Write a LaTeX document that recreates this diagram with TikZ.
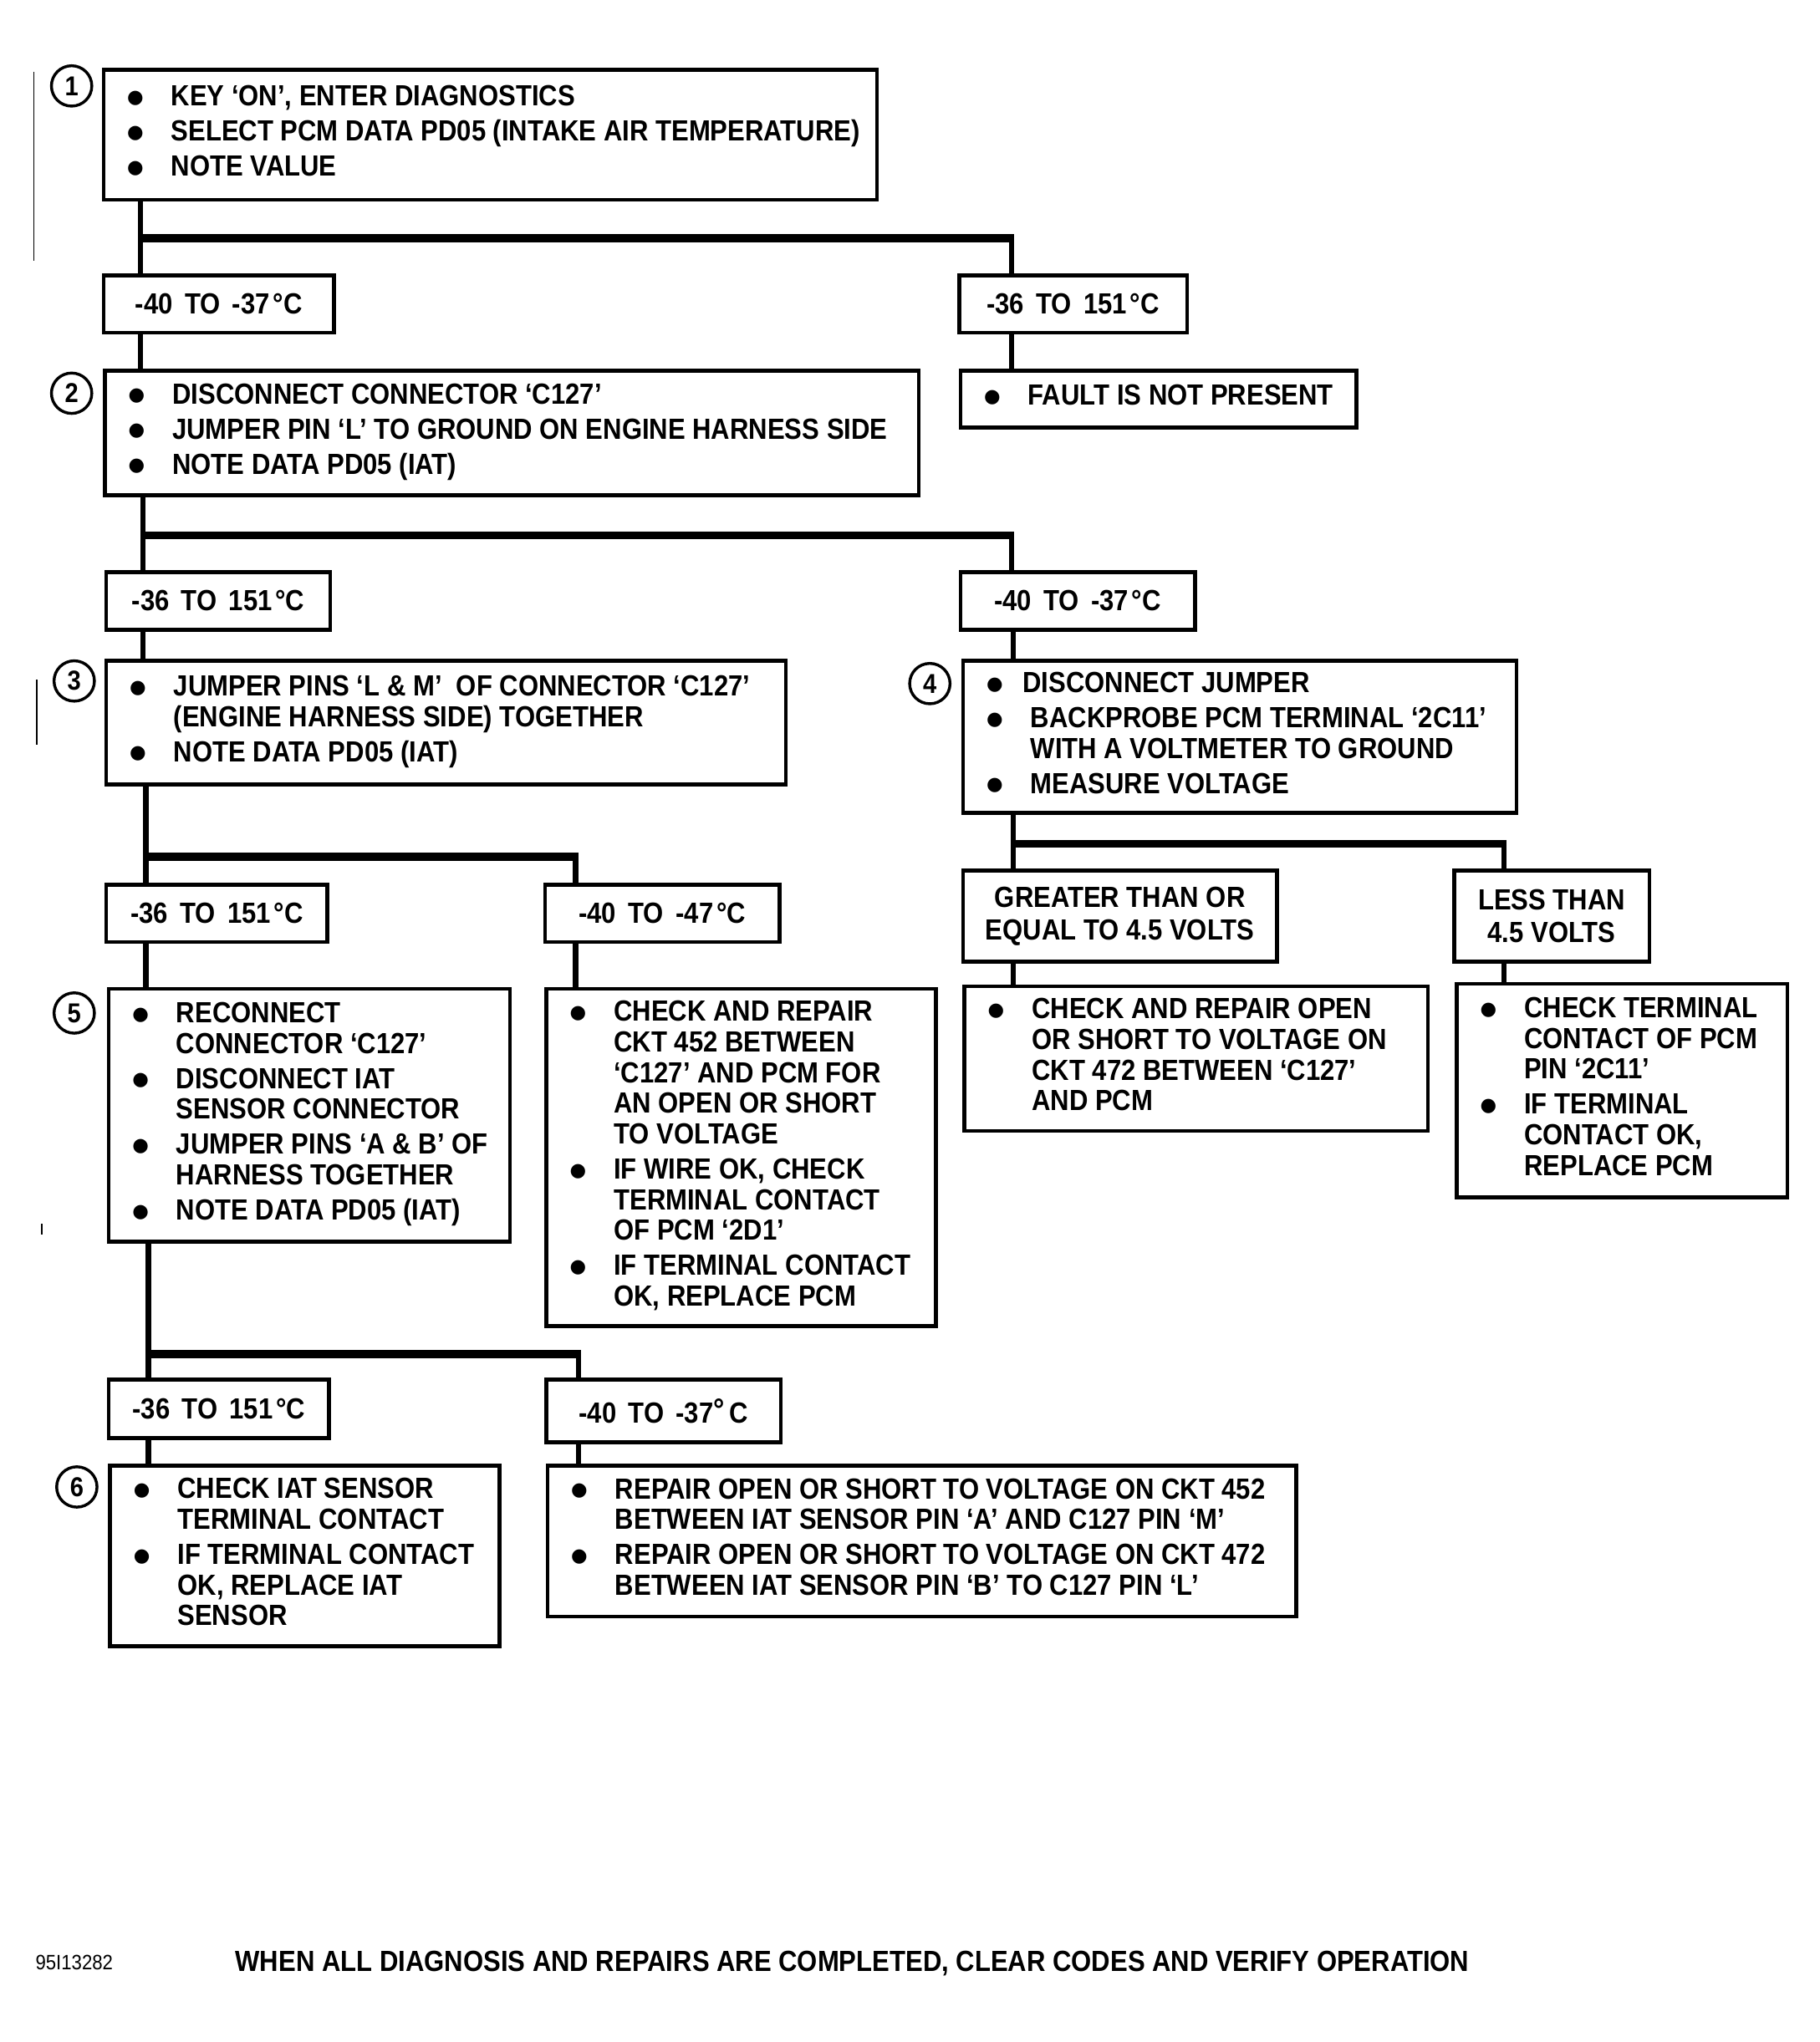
\documentclass[tikz,border=0pt]{standalone}
\usepackage{fontspec}
\setmainfont{Liberation Sans}[FakeStretch=0.89]
\newfontfamily\symfont{DejaVu Sans}
\newcommand\txtfont{\fontsize{11.2pt}{11.75pt}\selectfont\bfseries}
\newcommand\lblfont{\fontsize{11.2pt}{12.5pt}\selectfont\bfseries\spaceskip=4.6pt plus 1pt minus 1pt\relax}
\newcommand\numfont{\fontsize{10.5pt}{12pt}\selectfont\bfseries}
\newcommand\idfont{\fontsize{8pt}{9pt}\selectfont}
\newcommand\degs{\hspace{1.2pt}°}
\newcommand\bdot{\raisebox{1.1pt}{\symfont\fontsize{7.2pt}{7.2pt}\selectfont ●}}
\newcommand\bul{\strut\makebox[17.5pt][l]{\hspace{0.6pt}\bdot}}
\newcommand\bulA{\strut\makebox[14.5pt][l]{\hspace{0.6pt}\bdot}}
\newcommand\ind{\strut\hspace*{17.5pt}}
\newcommand\isep{\\[1.75pt]}
\tikzset{
  box/.style={draw, line width=1.5pt, rectangle, inner sep=0pt, anchor=north west},
  sz/.style 2 args={minimum width=#1*0.5pt, minimum height=#2*0.5pt},
  lbl/.style={box, font=\lblfont, align=center},
  txt/.style={inner sep=0pt, anchor=west, align=left, font=\txtfont},
  num/.style={draw, circle, line width=1.1pt, minimum size=15.5pt, inner sep=0pt, font=\numfont},
  vl/.style={line width=2pt},
  hl/.style={line width=3pt},
  stray/.style={line width=0.6pt},
}
\begin{document}
\begin{tikzpicture}[x=0.5pt,y=-0.5pt]
\useasboundingbox (0,0) rectangle (1397.5,1568.3);

% ---------- step 1
\node[num] (n1) at (55,66) {1};
\node[box, sz={594}{100}] (b1) at (78,52) {};
\node[txt] (t1) at ([xshift=9pt]b1.west) {\bul KEY ‘ON’, ENTER DIAGNOSTICS\isep\bul SELECT PCM DATA PD05 (INTAKE AIR TEMPERATURE)\isep\bul NOTE VALUE};
\node[lbl, sz={177}{44}] (l1a) at (78,210) {-40 TO -37\degs C};
\node[lbl, sz={175}{44}] (l1b) at (735,210) {-36 TO 151\degs C};
\node[box, sz={304}{44}] (fault) at (736,283) {};
\node[txt] (tf) at ([xshift=9pt]fault.west) {\bul FAULT IS NOT PRESENT};

% ---------- step 2
\node[num] (n2) at (55,302) {2};
\node[box, sz={625}{96}] (b2) at (79,283) {};
\node[txt] (t2) at ([xshift=9pt]b2.west) {\bul DISCONNECT CONNECTOR ‘C127’\isep\bul JUMPER PIN ‘L’ TO GROUND ON ENGINE HARNESS SIDE\isep\bul NOTE DATA PD05 (IAT)};
\node[lbl, sz={172}{44}] (l2a) at (80,438) {-36 TO 151\degs C};
\node[lbl, sz={180}{44}] (l2b) at (736,438) {-40 TO -37\degs C};

% ---------- step 3
\node[num] (n3) at (57,523) {3};
\node[box, sz={522}{95}] (b3) at (80,506) {};
\node[txt] (t3) at ([xshift=9pt]b3.west) {\bul JUMPER PINS ‘L \& M’\ \ OF CONNECTOR ‘C127’\\\ind (ENGINE HARNESS SIDE) TOGETHER\isep\bul NOTE DATA PD05 (IAT)};
\node[lbl, sz={170}{44}] (l3a) at (80,678) {-36 TO 151\degs C};
\node[lbl, sz={180}{44}] (l3b) at (417,678) {-40 TO -47\degs C};

% ---------- step 4
\node[num] (n4) at (714,525) {4};
\node[box, sz={425}{117}] (b4) at (738,506) {};
\node[txt] (t4) at ([xshift=9pt]b4.west) {\bulA DISCONNECT JUMPER\isep\bul BACKPROBE PCM TERMINAL ‘2C11’\\\ind WITH A VOLTMETER TO GROUND\isep\bul MEASURE VOLTAGE};
\node[lbl, sz={241}{70}, font=\txtfont] (l4a) at (738,667) {GREATER THAN OR\\[0.75pt]EQUAL TO 4.5 VOLTS};
\node[lbl, sz={150}{70}, font=\txtfont] (l4b) at (1115,667) {LESS THAN\\[0.75pt]4.5 VOLTS};
\node[box, sz={356}{111}] (c472) at (739,756) {};
\node[txt] (t472) at ([xshift=9pt]c472.west) {\bul CHECK AND REPAIR OPEN\\\ind OR SHORT TO VOLTAGE ON\\\ind CKT 472 BETWEEN ‘C127’\\\ind AND PCM};
\node[box, sz={254}{164}] (chk) at (1117,754) {};
\node[txt] (tchk) at ([xshift=9pt]chk.west) {\bul CHECK TERMINAL\\\ind CONTACT OF PCM\\\ind PIN ‘2C11’\isep\bul IF TERMINAL\\\ind CONTACT OK,\\\ind REPLACE PCM};

% ---------- step 5
\node[num] (n5) at (57,778) {5};
\node[box, sz={308}{194}] (b5) at (82,758) {};
\node[txt] (t5) at ([xshift=9pt]b5.west) {\bul RECONNECT\\\ind CONNECTOR ‘C127’\isep\bul DISCONNECT IAT\\\ind SENSOR CONNECTOR\isep\bul JUMPER PINS ‘A \& B’ OF\\\ind HARNESS TOGETHER\isep\bul NOTE DATA PD05 (IAT)};
\node[box, sz={299}{259}] (c452) at (418,758) {};
\node[txt] (t452) at ([xshift=9pt]c452.west) {\bul CHECK AND REPAIR\\\ind CKT 452 BETWEEN\\\ind ‘C127’ AND PCM FOR\\\ind AN OPEN OR SHORT\\\ind TO VOLTAGE\isep\bul IF WIRE OK, CHECK\\\ind TERMINAL CONTACT\\\ind OF PCM ‘2D1’\isep\bul IF TERMINAL CONTACT\\\ind OK, REPLACE PCM};
\node[lbl, sz={169}{45}] (l5a) at (82,1058) {-36 TO 151\degs C};
\node[lbl, sz={180}{48}] (l5b) at (418,1058) {-40 TO -37\raisebox{1pt}{\large °}\,C};

% ---------- step 6
\node[num] (n6) at (59,1142) {6};
\node[box, sz={299}{139}] (b6) at (83,1124) {};
\node[txt] (t6) at ([xshift=9pt]b6.west) {\bul CHECK IAT SENSOR\\\ind TERMINAL CONTACT\isep\bul IF TERMINAL CONTACT\\\ind OK, REPLACE IAT\\\ind SENSOR};
\node[box, sz={575}{116}] (rep) at (419,1124) {};
\node[txt] (trep) at ([xshift=9pt]rep.west) {\bul REPAIR OPEN OR SHORT TO VOLTAGE ON CKT 452\\\ind BETWEEN IAT SENSOR PIN ‘A’ AND C127 PIN ‘M’\isep\bul REPAIR OPEN OR SHORT TO VOLTAGE ON CKT 472\\\ind BETWEEN IAT SENSOR PIN ‘B’ TO C127 PIN ‘L’};

% ---------- footer
\node[font=\idfont, inner sep=0pt] (id) at (57,1507) {95I13282};
\node[font=\txtfont, inner sep=0pt] (foot) at (654.5,1508) {WHEN ALL DIAGNOSIS AND REPAIRS ARE COMPLETED, CLEAR CODES AND VERIFY OPERATION};

% ---------- junctions
\coordinate (j1) at (108,183); \coordinate (c1) at (777,183);
\coordinate (j2) at (110,411); \coordinate (c2) at (777,411);
\coordinate (j3) at (112,658); \coordinate (c3) at (442,658);
\coordinate (j4) at (778,648); \coordinate (c4) at (1155,648);
\coordinate (j5) at (114,1040); \coordinate (c5) at (444,1040);

% ---------- connectors
\draw[vl] (b1.south -| j1) -- (l1a.north -| j1);
\draw[hl] ([xshift=-1pt]j1) -- ([xshift=1pt]c1);
\draw[vl] (c1) -- (l1b.north -| c1);
\draw[vl] (l1a.south -| j1) -- (b2.north -| j1);
\draw[vl] (l1b.south -| c1) -- (fault.north -| c1);

\draw[vl] (b2.south -| j2) -- (l2a.north -| j2);
\draw[hl] ([xshift=-1pt]j2) -- ([xshift=1pt]c2);
\draw[vl] (c2) -- (l2b.north -| c2);
\draw[vl] (l2a.south -| j2) -- (b3.north -| j2);
\draw[vl] (l2b.south -| j4) -- (b4.north -| j4);

\draw[vl] (b3.south -| j3) -- (l3a.north -| j3);
\draw[hl] ([xshift=-1pt]j3) -- ([xshift=1pt]c3);
\draw[vl] (c3) -- (l3b.north -| c3);
\draw[vl] (l3a.south -| j3) -- (b5.north -| j3);
\draw[vl] (l3b.south -| c3) -- (c452.north -| c3);

\draw[vl] (b4.south -| j4) -- (l4a.north -| j4);
\draw[hl] ([xshift=-1pt]j4) -- ([xshift=1pt]c4);
\draw[vl] (c4) -- (l4b.north -| c4);
\draw[vl] (l4a.south -| j4) -- (c472.north -| j4);
\draw[vl] (l4b.south -| c4) -- (chk.north -| c4);

\draw[vl] (b5.south -| j5) -- (l5a.north -| j5);
\draw[hl] ([xshift=-1pt]j5) -- ([xshift=1pt]c5);
\draw[vl] (c5) -- (l5b.north -| c5);
\draw[vl] (l5a.south -| j5) -- (b6.north -| j5);
\draw[vl] (l5b.south -| c5) -- (rep.north -| c5);

% ---------- margin marks
\draw[stray] (26,55) -- (26,200);
\draw[stray] (28,522) -- (28,572);
\draw[stray] (32,940) -- (32,948);
\end{tikzpicture}
\end{document}
